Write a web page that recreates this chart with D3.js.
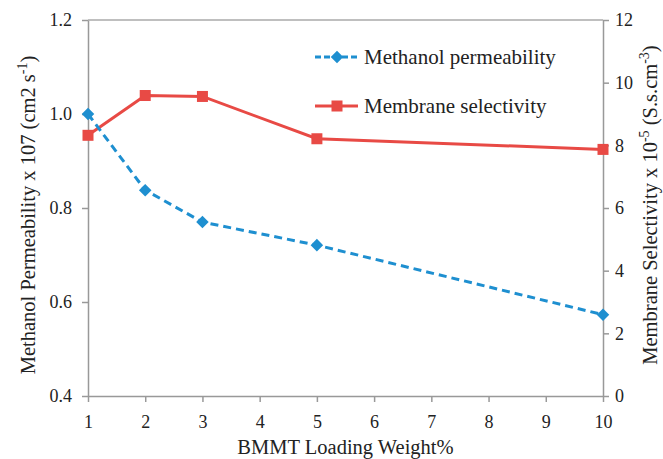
<!DOCTYPE html>
<html>
<head>
<meta charset="utf-8">
<script src="https://cdn.jsdelivr.net/npm/d3@7"></script>
</head>
<body style="margin:0; background:#fff">
<div id="chart"></div>
<script>
// data
var loading = [1, 2, 3, 5, 10];
var permeability = [1.0, 0.838, 0.770, 0.721, 0.573];
var selectivity = [8.32, 9.59, 9.56, 8.21, 7.87];
var xTicks = [1, 2, 3, 4, 5, 6, 7, 8, 9, 10];
var leftTicks = [0.4, 0.6, 0.8, 1.0, 1.2];
var rightTicks = [0, 2, 4, 6, 8, 10, 12];

var fontName = "'Liberation Serif'";

function draw() {
    var w = 663;
    var h = 459;
    var left = 88, right = 603, top = 20, bottom = 396;

    var blue = "#1e8fd0";
    var red = "#e84a45";

    var xScale = d3.scaleLinear().domain([1, 10]).range([left, right]);
    var yLeft = d3.scaleLinear().domain([0.4, 1.2]).range([bottom, top]);
    var yRight = d3.scaleLinear().domain([0, 12]).range([bottom, top]);

    var svg = d3.select("#chart")
                .append("svg")
                .attr("width", w)
                .attr("height", h);

    // top border
    svg.append("line")
        .attr("x1", left).attr("x2", right)
        .attr("y1", top).attr("y2", top)
        .attr("stroke", "#aaa").attr("stroke-width", 1.5);

    var xAxis = d3.axisBottom(xScale).tickValues(xTicks).tickSize(6).tickSizeOuter(0).tickPadding(13);
    var lAxis = d3.axisLeft(yLeft).tickValues(leftTicks).tickFormat(d3.format(".1f")).tickSize(6).tickSizeOuter(0).tickPadding(10);
    var rAxis = d3.axisRight(yRight).tickValues(rightTicks).tickSize(6).tickSizeOuter(0).tickPadding(6);

    svg.append("g").attr("class", "axis")
        .attr("transform", "translate(0," + bottom + ")")
        .call(xAxis);
    svg.append("g").attr("class", "axis")
        .attr("transform", "translate(" + left + ",0)")
        .call(lAxis);
    svg.append("g").attr("class", "axis")
        .attr("transform", "translate(" + right + ",0)")
        .call(rAxis);
    svg.selectAll(".axis").attr("font-family", null).attr("font-size", 18);
    svg.selectAll(".axis path, .axis line").attr("stroke", "#999").attr("stroke-width", 1.5);
    svg.selectAll(".axis text")
        .style("font-family", fontName)
        .attr("font-size", 18)
        .attr("fill", "#222");

    var data = loading.map(function(d, i) {
        return { x: d, p: permeability[i], s: selectivity[i] };
    });

    var lineP = d3.line()
                  .x(function(d) { return xScale(d.x); })
                  .y(function(d) { return yLeft(d.p); });
    var lineS = d3.line()
                  .x(function(d) { return xScale(d.x); })
                  .y(function(d) { return yRight(d.s); });

    svg.append("path")
        .datum(data)
        .attr("d", lineS)
        .attr("fill", "none")
        .attr("stroke", red)
        .attr("stroke-width", 3);

    svg.append("path")
        .datum(data)
        .attr("d", lineP)
        .attr("fill", "none")
        .attr("stroke", blue)
        .attr("stroke-width", 3)
        .attr("stroke-dasharray", "8,5");

    svg.selectAll(".sq")
        .data(data)
        .enter().append("rect")
        .attr("x", function(d) { return xScale(d.x) - 5.5; })
        .attr("y", function(d) { return yRight(d.s) - 5.5; })
        .attr("width", 11).attr("height", 11)
        .attr("fill", red);

    var diamond = d3.symbol().type(d3.symbolDiamond2).size(100);
    svg.selectAll(".dm")
        .data(data)
        .enter().append("path")
        .attr("d", diamond)
        .attr("transform", function(d) {
            return "translate(" + xScale(d.x) + "," + yLeft(d.p) + ")";
        })
        .attr("fill", blue);

    // legend
    var lg = svg.append("g");
    lg.append("line")
        .attr("x1", 315).attr("x2", 358).attr("y1", 57).attr("y2", 57)
        .attr("stroke", blue).attr("stroke-width", 3).attr("stroke-dasharray", "6,3");
    lg.append("path")
        .attr("d", diamond)
        .attr("transform", "translate(337,57)")
        .attr("fill", blue);
    lg.append("text").attr("x", 364).attr("y", 64)
        .text("Methanol permeability");

    lg.append("line")
        .attr("x1", 315).attr("x2", 358).attr("y1", 106).attr("y2", 106)
        .attr("stroke", red).attr("stroke-width", 3);
    lg.append("rect")
        .attr("x", 331.5).attr("y", 100.5).attr("width", 11).attr("height", 11)
        .attr("fill", red);
    lg.append("text").attr("x", 364).attr("y", 113)
        .text("Membrane selectivity");

    // axis titles
    svg.append("text")
        .attr("class", "title")
        .attr("x", (left + right) / 2).attr("y", 454)
        .attr("text-anchor", "middle")
        .text("BMMT Loading Weight%");

    var lt = svg.append("text")
        .attr("class", "title")
        .attr("transform", "translate(35," + 215 + ") rotate(-90)")
        .attr("text-anchor", "middle");
    lt.append("tspan").text("Methanol Permeability x 107 (cm2 s");
    lt.append("tspan").attr("dy", -8).attr("font-size", 14).text("-1");
    lt.append("tspan").attr("dy", 8).text(")");

    var rt = svg.append("text")
        .attr("class", "title")
        .attr("transform", "translate(657," + 205 + ") rotate(-90)")
        .attr("text-anchor", "middle");
    rt.append("tspan").text("Membrane Selectivity x 10");
    rt.append("tspan").attr("dy", -8).attr("font-size", 14).text("-5");
    rt.append("tspan").attr("dy", 8).text(" (S.s.cm");
    rt.append("tspan").attr("dy", -8).attr("font-size", 14).text("-3");
    rt.append("tspan").attr("dy", 8).text(")");

    lg.selectAll("text")
        .style("font-family", fontName).attr("font-size", 21).attr("fill", "#222");
    svg.selectAll(".title")
        .style("font-family", fontName).attr("font-size", 20.5).attr("fill", "#222");
}
draw();
</script>
</body>
</html>
